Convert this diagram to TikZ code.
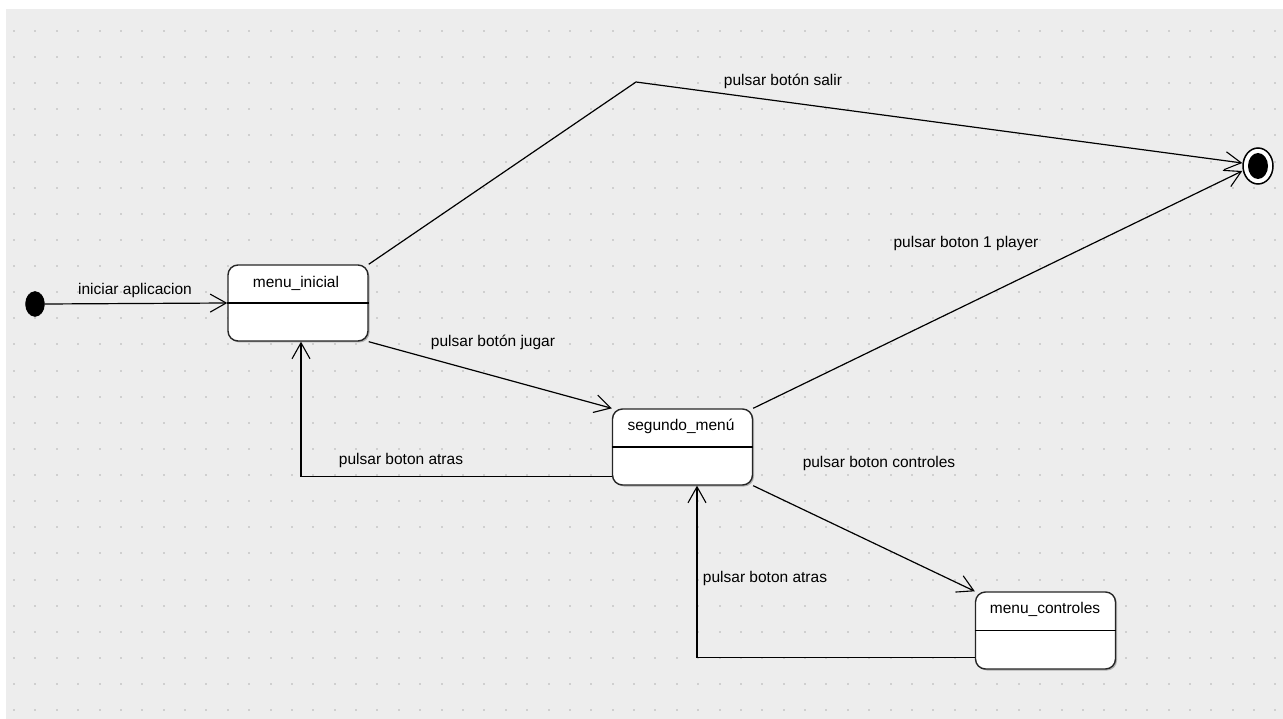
\documentclass[tikz,border=0pt]{standalone}
\usepackage{fontspec}
\setmainfont{Liberation Sans}
\usetikzlibrary{arrows.meta,calc,shapes.geometric,shadows}
\definecolor{bgc}{HTML}{EDEDED}
\definecolor{dotc}{HTML}{CFCFCF}
\tikzset{
  statebox/.style={draw=black!85, line width=1.4pt, fill=white, rounded corners=10pt,
    minimum width=140pt, minimum height=76pt, inner sep=0pt,
    drop shadow={shadow xshift=1.5pt, shadow yshift=-1.5pt, opacity=0.45, fill=black!60}},
  statename/.style={font=\fontsize{15.5}{18}\selectfont, inner sep=0pt},
  lbl/.style={font=\fontsize{15.5}{18}\selectfont, inner sep=0pt},
  trans/.style={line width=1.2pt, -{Straight Barb[length=16pt,width=18pt,line width=1.1pt]}},
  divider/.style={line width=1.1pt}
}
\begin{document}
\begin{tikzpicture}[x=1pt,y=-1pt]
\useasboundingbox (0,0) rectangle (1283,719);
\fill[white] (0,0) rectangle (1283,719);
\fill[bgc] (6,9) rectangle (1284,720);
\foreach \i in {0,...,59}{
  \foreach \j in {0,...,26}{
    \fill[dotc] ({14+\i*21.38-1},{31+\j*26.12-1}) rectangle ++(2,2);
  }
}
% states
\node[statebox] (mi) at (298,303) {};
\node[statebox] (sm) at (682.5,447) {};
\node[statebox, minimum height=77pt] (mc) at (1045.5,630.5) {};
\draw[divider] (mi.west) -- (mi.east);
\draw[divider] (sm.west) -- (sm.east);
\draw[divider] (mc.west) -- (mc.east);
\node[statename] (mit) at (296,283) {menu\_inicial};
\node[statename] (smt) at (681,426) {segundo\_menú};
\node[statename] (mct) at (1045,609) {menu\_controles};
% initial and final
\node[ellipse, fill=black, draw=black, minimum width=19pt, minimum height=25pt, inner sep=0pt] (ini) at (35,304) {};
\node[ellipse, fill=white, draw=black, line width=1.5pt, minimum width=30pt, minimum height=36pt, inner sep=0pt] (fin) at (1258,166) {};
\node[ellipse, fill=black, minimum width=20pt, minimum height=26pt, inner sep=0pt] (finin) at (1258,166) {};
% coordinates
\coordinate (bend) at (636,82);
\coordinate (finA) at ($(fin.west)+(0,-3)$);
\coordinate (finB) at ($(fin.west)+(0,5)$);
% transitions
\draw[trans] (ini.east) -- (mi.west);
\draw[trans] (mi.north east) -- (bend) -- (finA);
\draw[trans] (mi.south east) -- (sm.north west);
\draw[trans] (sm.north east) -- (finB);
\draw[trans] ($(sm.south west)+(0,-9)$) -| ($(mi.south)+(3,0)$);
\draw[trans] (sm.south east) -- (mc.north west);
\draw[trans] ($(mc.south west)+(0,-12)$) -| ($(sm.south)+(14.5,0)$);
% labels
\node[lbl] at (135,290) {iniciar aplicacion};
\node[lbl] at (783,81) {pulsar botón salir};
\node[lbl] at (493,342) {pulsar botón jugar};
\node[lbl] at (966,243) {pulsar boton 1 player};
\node[lbl] at (401,460) {pulsar boton atras};
\node[lbl] at (879,463) {pulsar boton controles};
\node[lbl] at (765,578) {pulsar boton atras};
\end{tikzpicture}
\end{document}
